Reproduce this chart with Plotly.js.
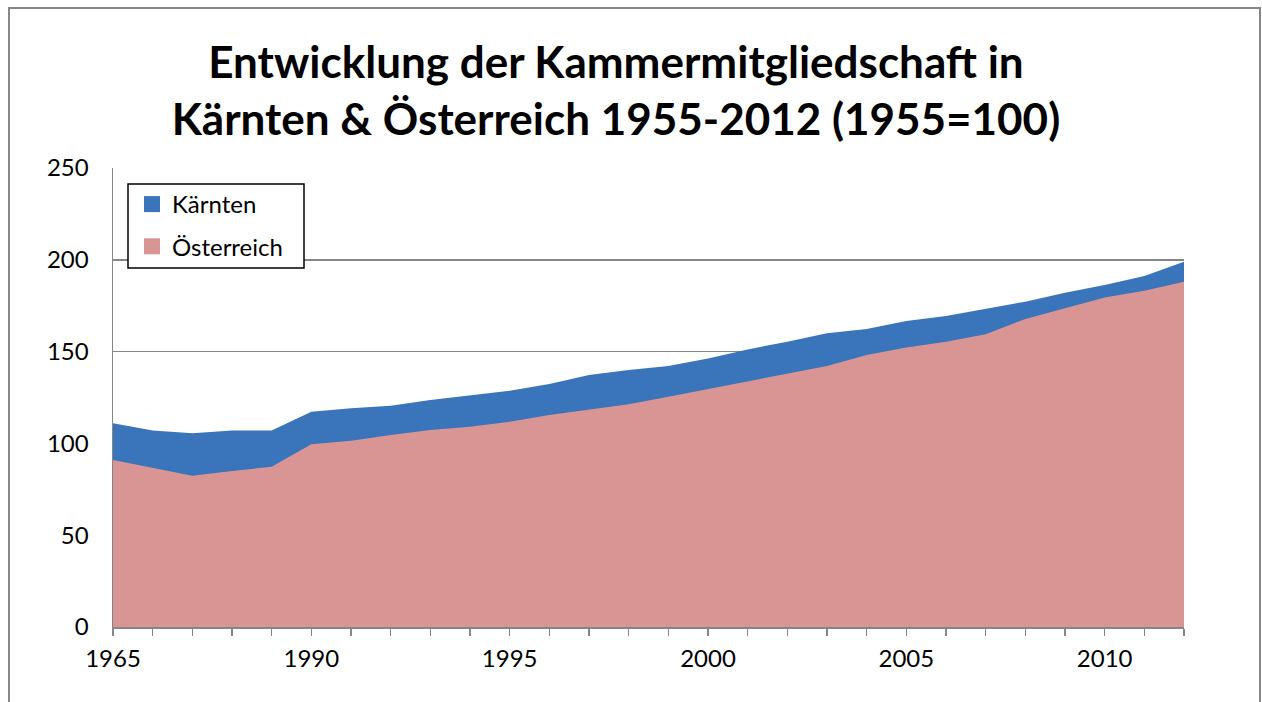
<!DOCTYPE html>
<html>
<head>
<meta charset="utf-8">
<script src="https://cdn.plot.ly/plotly-3.0.1.min.js"></script>
<style>html,body{margin:0;padding:0;background:#fff;}#chart{width:1262px;height:702px;}</style>
</head>
<body>
<div id="chart"></div>
<script>
// Categories (x axis)
const years = ['1965','1970','1975','1980','1985','1990','1991','1992','1993','1994','1995','1996','1997','1998','1999','2000','2001','2002','2003','2004','2005','2006','2007','2008','2009','2010','2011','2012'];
// Tick labels shown (every 5th category)
const tickLabels = ['1965','','','','','1990','','','','','1995','','','','','2000','','','','','2005','','','','','2010','',''];
// Series values (index, 1955 = 100)
const kaernten = [111,107,105.5,107,107,117.3,119.1,120.5,123.6,126,128.7,132.4,137.3,140,142.2,146.3,151.2,155.4,160,162.3,166.7,169.4,173.2,177.2,182.1,186.3,191.2,199];
const oesterreich = [91,86.8,82.4,85,87.3,99.5,101.5,104.6,107.3,109.1,111.8,115.5,118.6,121.3,125.4,129.6,133.6,138.2,142.2,148.1,152.3,155.4,159.4,167.8,173.6,179.4,183.2,188.1];
const seriesNames = ['Kärnten','Österreich'];
const colors = ['#3A74BA','#D99594'];

const font = 'Lato, "Open Sans", sans-serif';

const traces = [
  {x: years, y: kaernten, type:'scatter', mode:'lines', fill:'tozeroy', fillcolor: colors[0], line:{width:0, color: colors[0]}, showlegend:false, hoverinfo:'x+y', name: seriesNames[0]},
  {x: years, y: oesterreich, type:'scatter', mode:'lines', fill:'tozeroy', fillcolor: colors[1], line:{width:0, color: colors[1]}, showlegend:false, hoverinfo:'x+y', name: seriesNames[1]},
  {x:[null], y:[null], type:'scatter', mode:'markers', marker:{symbol:'square', size:16, color: colors[0]}, name: seriesNames[0], legendgroup:'a', showlegend:true},
  {x:[null], y:[null], type:'scatter', mode:'markers', marker:{symbol:'square', size:16, color: colors[1]}, name: seriesNames[1], legendgroup:'b', showlegend:true}
];

const L = 113, R = 1184, T = 168, B = 627, W = 1262, H = 702;
const pw = R - L, ph = B - T;
const px = v => (v - L) / pw;   // pixel -> paper x
const py = v => (B - v) / ph;   // pixel -> paper y

const layout = {
  width: W, height: H,
  margin: {l: L, r: W - R, t: T, b: H - B, pad: 0},
  paper_bgcolor: '#fff', plot_bgcolor: '#fff',
  font: {family: font, size: 24, color: '#000'},
  title: {
    text: 'Entwicklung der Kammermitgliedschaft in<br>Kärnten & Österreich 1955-2012 (1955=100)',
    font: {family: font, size: 44, color: '#000', weight: 'bold'},
    xref: 'container', x: 616 / W, xanchor: 'center',
    yref: 'container', y: 1 - 78 / H, yanchor: 'top'
  },
  xaxis: {
    type: 'category',
    range: [0, years.length - 1],
    tickmode: 'array', tickvals: years, ticktext: tickLabels,
    ticks: 'outside', ticklen: 7, tickwidth: 1.5, tickcolor: '#868686',
    ticklabelstandoff: 3,
    showline: true, linecolor: '#868686', linewidth: 1.5,
    showgrid: false, zeroline: false,
    tickfont: {family: font, size: 24, color: '#000'},
    fixedrange: true
  },
  yaxis: {
    range: [0, 250], dtick: 50, tick0: 0,
    ticks: '', ticklabelstandoff: 18,
    showline: true, linecolor: '#868686', linewidth: 1.5,
    showgrid: true, gridcolor: '#868686', gridwidth: 1.5,
    zeroline: false,
    tickfont: {family: font, size: 24, color: '#000'},
    fixedrange: true
  },
  showlegend: true,
  legend: {
    x: px(132), y: py(182), xanchor: 'left', yanchor: 'top',
    bgcolor: 'rgba(0,0,0,0)', borderwidth: 0,
    font: {family: font, size: 24, color: '#000'},
    traceorder: 'grouped', tracegroupgap: 8,
    itemsizing: 'trace'
  },
  shapes: [
    {type:'rect', xref:'paper', yref:'paper',
     x0: px(9), x1: px(1260), y0: py(720), y1: py(8),
     line: {color:'#868686', width: 2}, fillcolor:'rgba(0,0,0,0)', layer:'below'},
    {type:'rect', xref:'paper', yref:'paper',
     x0: px(128), x1: px(304), y0: py(268), y1: py(184),
     line: {color:'#000', width: 1.5}, fillcolor:'#fff', layer:'above'}
  ]
};

Plotly.newPlot('chart', traces, layout, {displayModeBar: false, staticPlot: true});
</script>
</body>
</html>
